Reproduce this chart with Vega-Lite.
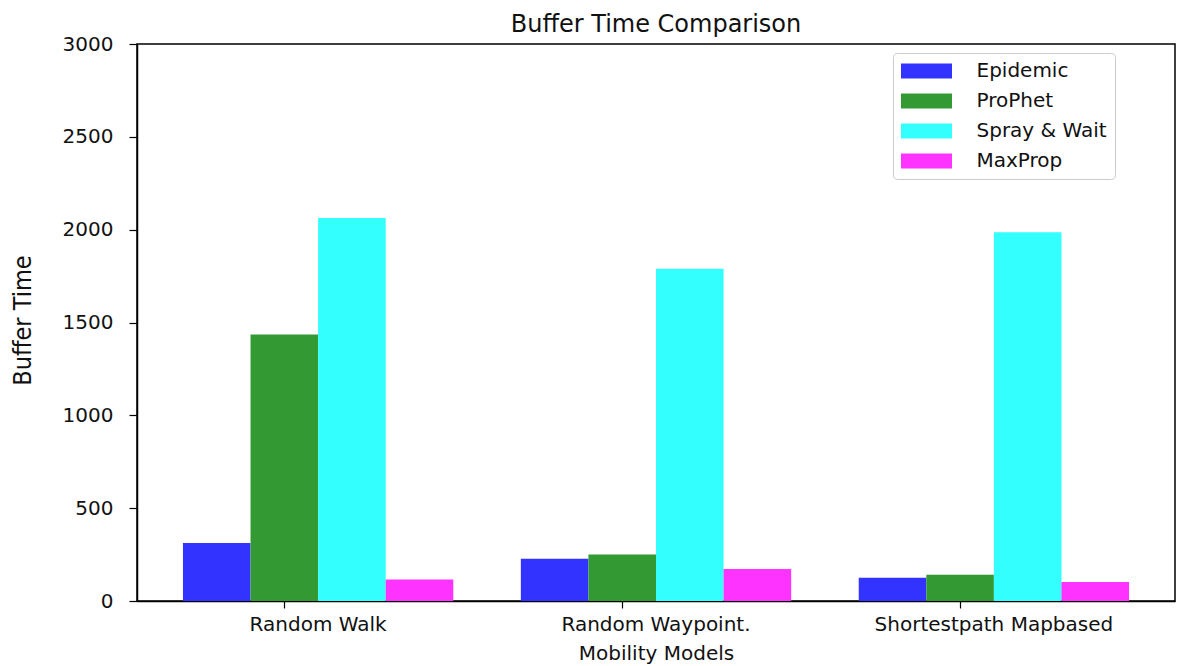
{
  "$schema": "https://vega.github.io/schema/vega-lite/v6.json",
  "width": 1038,
  "height": 557,
  "autosize": {"type": "none"},
  "padding": {"left": 137, "top": 44, "right": 2, "bottom": 65},
  "background": "white",
  "title": {
    "text": "Buffer Time Comparison",
    "font": "DejaVu Sans",
    "fontSize": 24,
    "fontWeight": "normal",
    "color": "#111111",
    "anchor": "middle",
    "frame": "group",
    "baseline": "alphabetic",
    "offset": 0,
    "dy": 22
  },
  "data": {
    "values": [
      {"model": "Random Walk", "router": "Epidemic", "value": 312},
      {"model": "Random Walk", "router": "ProPhet", "value": 1436},
      {"model": "Random Walk", "router": "Spray & Wait", "value": 2063},
      {"model": "Random Walk", "router": "MaxProp", "value": 116},
      {"model": "Random Waypoint.", "router": "Epidemic", "value": 227},
      {"model": "Random Waypoint.", "router": "ProPhet", "value": 250},
      {"model": "Random Waypoint.", "router": "Spray & Wait", "value": 1789},
      {"model": "Random Waypoint.", "router": "MaxProp", "value": 173},
      {"model": "Shortestpath Mapbased", "router": "Epidemic", "value": 125},
      {"model": "Shortestpath Mapbased", "router": "ProPhet", "value": 141},
      {"model": "Shortestpath Mapbased", "router": "Spray & Wait", "value": 1986},
      {"model": "Shortestpath Mapbased", "router": "MaxProp", "value": 103}
    ]
  },
  "mark": {"type": "bar"},
  "encoding": {
    "x": {
      "field": "model",
      "type": "nominal",
      "sort": null,
      "scale": {"paddingInner": 0.2, "paddingOuter": 0.136},
      "axis": {
        "title": "Mobility Models",
        "labelAngle": 0,
        "labelLimit": 0,
        "bandPosition": 0.375,
        "tickSize": 7,
        "tickColor": "black",
        "tickWidth": 1.2,
        "domainColor": "black",
        "domainWidth": 1.5,
        "labelFont": "DejaVu Sans",
        "labelFontSize": 20,
        "labelColor": "#111111",
        "labelBaseline": "alphabetic",
        "labelPadding": 22,
        "titleFont": "DejaVu Sans",
        "titleFontSize": 20,
        "titleFontWeight": "normal",
        "titleColor": "#111111",
        "titleBaseline": "alphabetic",
        "titleY": 58,
        "grid": false
      }
    },
    "xOffset": {
      "field": "router",
      "type": "nominal",
      "sort": ["Epidemic", "ProPhet", "Spray & Wait", "MaxProp"],
      "scale": {"paddingInner": 0, "paddingOuter": 0}
    },
    "y": {
      "field": "value",
      "type": "quantitative",
      "scale": {"domain": [0, 3000], "nice": false, "zero": true},
      "axis": {
        "title": "Buffer Time",
        "values": [0, 500, 1000, 1500, 2000, 2500, 3000],
        "format": "d",
        "grid": false,
        "tickSize": 8,
        "tickColor": "black",
        "tickWidth": 1.2,
        "domainColor": "black",
        "domainWidth": 1.5,
        "labelFont": "DejaVu Sans",
        "labelFontSize": 20,
        "labelColor": "#111111",
        "labelPadding": 16,
        "titleFont": "Liberation Sans Narrow, DejaVu Sans Condensed, Liberation Sans",
        "titleFontSize": 25,
        "titleFontWeight": "normal",
        "titleColor": "#111111",
        "titleAngle": -90,
        "titleAlign": "center",
        "titleBaseline": "middle",
        "titleX": -115,
        "titleY": 276
      }
    },
    "color": {
      "field": "router",
      "type": "nominal",
      "sort": ["Epidemic", "ProPhet", "Spray & Wait", "MaxProp"],
      "scale": {
        "domain": ["Epidemic", "ProPhet", "Spray & Wait", "MaxProp"],
        "range": ["#3333ff", "#339933", "#33ffff", "#ff33ff"]
      },
      "legend": {
        "title": null,
        "orient": "none",
        "legendX": 756,
        "legendY": 9,
        "padding": 8,
        "symbolType": "M-2.55,-0.75H2.55V0.75H-2.55Z",
        "symbolSize": 400,
        "symbolOffset": 15.5,
        "symbolStrokeWidth": 0,
        "symbolOpacity": 1,
        "labelOffset": 40,
        "rowPadding": 10,
        "labelFont": "DejaVu Sans",
        "labelFontSize": 20,
        "labelColor": "#111111",
        "strokeColor": "#cccccc",
        "fillColor": "rgba(255,255,255,0.8)",
        "cornerRadius": 4
      }
    }
  },
  "config": {
    "view": {"stroke": "black", "strokeWidth": 1.5},
    "bar": {"opacity": 1}
  }
}
